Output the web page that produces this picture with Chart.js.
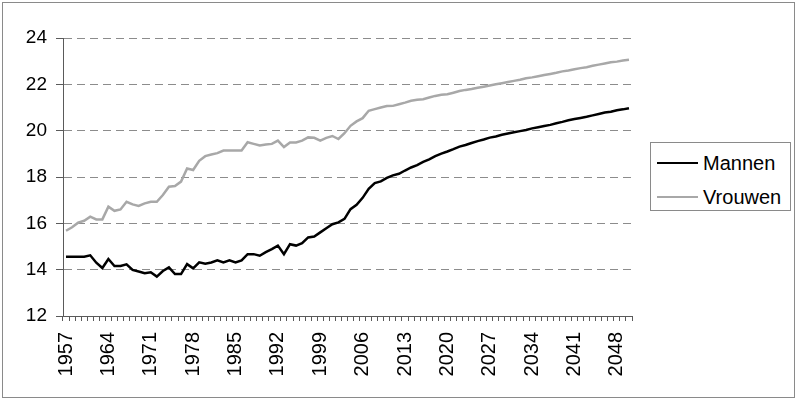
<!DOCTYPE html>
<html>
<head>
<meta charset="utf-8">
<title>Mannen / Vrouwen</title>
<script src="https://cdn.jsdelivr.net/npm/chart.js@4/dist/chart.umd.min.js"></script>
<style>
    html, body { margin: 0; padding: 0; background: #fff; }
    body { width: 800px; height: 402px; position: relative; overflow: hidden;
           font-family: "Liberation Sans", Arial, sans-serif; }
    #frame { position: absolute; left: 2px; top: 2px; width: 791px; height: 394px;
             border: 1px solid #8a8a8a; }
    #chart { position: absolute; left: 0; top: 0; }
    #legend { position: absolute; left: 650px; top: 142px; width: 139px; height: 67px;
              border: 1px solid #8a8a8a; background: #fff; }
    .row { position: absolute; left: 6px; height: 24px; display: flex; align-items: center; }
    .swatch { width: 41px; height: 0; border-top-style: solid; border-top-width: 2.5px; margin-right: 5px; }
    .lbl { font-size: 20px; color: #000; }
</style>
</head>
<body>
<div id="frame"></div>
<canvas id="chart" width="800" height="402"></canvas>
<div id="legend"></div>

<script>
/* Levensverwachting op 65 — mannen en vrouwen, 1957-2050 */

const years = [
    1957, 1958, 1959, 1960, 1961, 1962, 1963, 1964, 1965, 1966,
    1967, 1968, 1969, 1970, 1971, 1972, 1973, 1974, 1975, 1976,
    1977, 1978, 1979, 1980, 1981, 1982, 1983, 1984, 1985, 1986,
    1987, 1988, 1989, 1990, 1991, 1992, 1993, 1994, 1995, 1996,
    1997, 1998, 1999, 2000, 2001, 2002, 2003, 2004, 2005, 2006,
    2007, 2008, 2009, 2010, 2011, 2012, 2013, 2014, 2015, 2016,
    2017, 2018, 2019, 2020, 2021, 2022, 2023, 2024, 2025, 2026,
    2027, 2028, 2029, 2030, 2031, 2032, 2033, 2034, 2035, 2036,
    2037, 2038, 2039, 2040, 2041, 2042, 2043, 2044, 2045, 2046,
    2047, 2048, 2049, 2050,
];

const mannen = [
    14.56, 14.56, 14.56, 14.56, 14.62, 14.30, 14.07, 14.46, 14.16, 14.16,
    14.23, 13.99, 13.92, 13.85, 13.89, 13.70, 13.94, 14.10, 13.81, 13.81,
    14.24, 14.06, 14.32, 14.26, 14.31, 14.40, 14.31, 14.40, 14.31, 14.40,
    14.67, 14.67, 14.60, 14.76, 14.89, 15.04, 14.67, 15.10, 15.04, 15.14,
    15.39, 15.43, 15.61, 15.79, 15.96, 16.04, 16.19, 16.61, 16.80, 17.10,
    17.49, 17.74, 17.81, 17.96, 18.07, 18.14, 18.28, 18.41, 18.51, 18.65,
    18.76, 18.90, 19.01, 19.10, 19.20, 19.31, 19.38, 19.47, 19.55, 19.62,
    19.70, 19.75, 19.82, 19.88, 19.93, 19.98, 20.03, 20.10, 20.15, 20.20,
    20.25, 20.32, 20.38, 20.45, 20.50, 20.55, 20.60, 20.66, 20.72, 20.78,
    20.82, 20.88, 20.92, 20.97,
];

const vrouwen = [
    15.68, 15.83, 16.03, 16.11, 16.29, 16.17, 16.17, 16.72, 16.54, 16.60,
    16.93, 16.82, 16.75, 16.86, 16.93, 16.93, 17.22, 17.58, 17.61, 17.80,
    18.37, 18.30, 18.70, 18.90, 18.97, 19.03, 19.14, 19.14, 19.14, 19.14,
    19.50, 19.43, 19.36, 19.40, 19.43, 19.57, 19.29, 19.49, 19.49, 19.57,
    19.71, 19.69, 19.57, 19.69, 19.77, 19.64, 19.89, 20.21, 20.40, 20.54,
    20.86, 20.93, 21.00, 21.06, 21.07, 21.14, 21.21, 21.29, 21.33, 21.36,
    21.43, 21.50, 21.55, 21.57, 21.64, 21.71, 21.76, 21.80, 21.85, 21.90,
    21.95, 22.00, 22.05, 22.10, 22.15, 22.20, 22.26, 22.30, 22.35, 22.40,
    22.45, 22.50, 22.56, 22.60, 22.65, 22.70, 22.74, 22.80, 22.85, 22.90,
    22.95, 22.98, 23.03, 23.06,
];

const seriesNames = ['Mannen', 'Vrouwen'];
const seriesColours = ['#000000', '#a8a8a8'];

const xTickYears = [1957, 1964, 1971, 1978, 1985, 1992, 1999, 2006, 2013, 2020, 2027, 2034, 2041, 2048];
const yTicks = [12, 14, 16, 18, 20, 22, 24];

const FONT = '"Liberation Sans", Arial, sans-serif';
const AXIS = '#5a5a5a';

new Chart(document.getElementById('chart'), {
    type: 'line',
    data: {
        labels: years.map(String),
        datasets: [mannen, vrouwen].map((vals, i) => ({
            label: seriesNames[i], data: vals,
            borderColor: seriesColours[i], backgroundColor: seriesColours[i],
            borderWidth: 2.5, pointRadius: 0, tension: 0, fill: false,
        })),
    },
    options: {
        responsive: false, animation: false, devicePixelRatio: 1,
        layout: { padding: { left: 0, top: 38, right: 168, bottom: 0 } },
        plugins: { legend: { display: false }, tooltip: { enabled: false } },
        scales: {
            x: {
                type: 'category', offset: true,
                grid: { offset: true, drawOnChartArea: false, drawTicks: true,
                        tickLength: 5, color: AXIS, lineWidth: 1 },
                border: { display: true, color: AXIS, width: 1 },
                ticks: {
                    autoSkip: false, minRotation: 90, maxRotation: 90, padding: 11,
                    color: '#000', font: { family: FONT, size: 20 },
                    callback: (v, i) => xTickYears.includes(years[i]) ? String(years[i]) : '',
                },
                afterFit: (s) => { s.height = 86; },
            },
            y: {
                min: yTicks[0], max: yTicks[yTicks.length - 1],
                ticks: { stepSize: 2, padding: 9, color: '#000', font: { family: FONT, size: 19 } },
                grid: { color: '#8c8c8c', lineWidth: 1, drawTicks: true, tickLength: 7,
                        tickColor: AXIS },
                border: { display: true, color: AXIS, width: 1, dash: [8, 5] },
                afterFit: (s) => { s.width = 63; },
            },
        },
    },
});

/* ---- legend, boxed on the right like the original ---- */
document.getElementById('legend').innerHTML = seriesNames.map((name, i) => `
    <div class="row" style="top:${8 + i * 34}px">
        <span class="swatch" style="border-top-color:${seriesColours[i]}"></span>
        <span class="lbl">${name}</span>
    </div>`).join('');
</script>
</body>
</html>
